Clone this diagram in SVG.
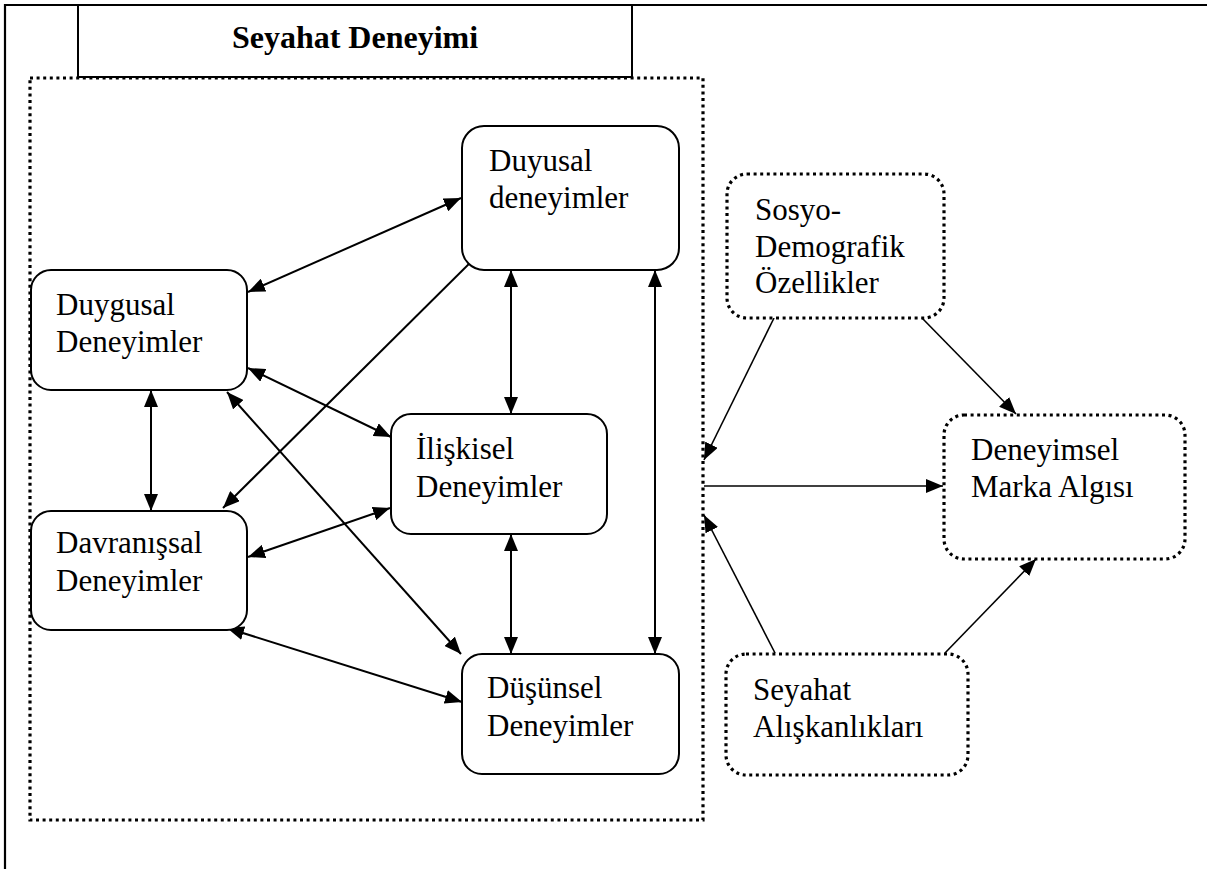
<svg xmlns="http://www.w3.org/2000/svg" width="1207" height="869" viewBox="0 0 1207 869">
<style>
text{font-family:"Liberation Serif","Times New Roman",serif;font-size:31px;fill:#000}
.title{font-weight:bold;font-size:32px}
.box{fill:#fff;stroke:#000;stroke-width:2}
.dbox{fill:#fff;stroke:#000;stroke-width:3.2;stroke-dasharray:3 3.6}
.frame{fill:none;stroke:#000;stroke-width:3.2;stroke-dasharray:3 3.6}
.c{fill:none;stroke:#000;stroke-width:2}
.c2{fill:none;stroke:#000;stroke-width:1.6}
</style>
<defs>
<marker id="ah" markerUnits="userSpaceOnUse" markerWidth="18" markerHeight="14" refX="17" refY="7" orient="auto-start-reverse">
<path d="M0,0 L17,7 L0,14 z" fill="#000"/>
</marker>
</defs>
<rect width="1207" height="869" fill="#fff"/>
<g id="outer-frame">
<path d="M5,869 V5 H1207" fill="none" stroke="#000" stroke-width="2.2"/>
</g>
<g id="group-frame">
<rect class="frame" x="30" y="78" width="673" height="742"/>
</g>
<g id="title">
<rect class="box" x="78" y="5" width="554" height="72"/>
<text class="title" x="355" y="48" text-anchor="middle">Seyahat Deneyimi</text>
</g>
<g id="connectors">
<line class="c" x1="461" y1="198" x2="248" y2="292" marker-start="url(#ah)" marker-end="url(#ah)"/>
<line class="c" x1="487" y1="246" x2="223" y2="508" marker-start="url(#ah)" marker-end="url(#ah)"/>
<line class="c" x1="511" y1="270" x2="511" y2="414" marker-start="url(#ah)" marker-end="url(#ah)"/>
<line class="c" x1="655" y1="270" x2="655" y2="654" marker-start="url(#ah)" marker-end="url(#ah)"/>
<line class="c" x1="248" y1="368" x2="391" y2="437" marker-start="url(#ah)" marker-end="url(#ah)"/>
<line class="c" x1="227" y1="392" x2="461" y2="654" marker-start="url(#ah)" marker-end="url(#ah)"/>
<line class="c" x1="151" y1="390" x2="151" y2="511" marker-start="url(#ah)" marker-end="url(#ah)"/>
<line class="c" x1="248" y1="557" x2="390" y2="508" marker-start="url(#ah)" marker-end="url(#ah)"/>
<line class="c" x1="227" y1="628" x2="462" y2="702" marker-start="url(#ah)" marker-end="url(#ah)"/>
<line class="c" x1="511" y1="534" x2="511" y2="654" marker-start="url(#ah)" marker-end="url(#ah)"/>
<line class="c2" x1="774" y1="318" x2="704" y2="460" marker-end="url(#ah)"/>
<line class="c2" x1="922" y1="318" x2="1016" y2="414" marker-end="url(#ah)"/>
<line class="c2" x1="704" y1="486" x2="943" y2="486" marker-end="url(#ah)"/>
<line class="c2" x1="775" y1="653" x2="704" y2="515" marker-end="url(#ah)"/>
<line class="c2" x1="945" y1="653" x2="1036" y2="559" marker-end="url(#ah)"/>
</g>
<g id="duyusal">
<rect class="box" x="462" y="126" width="217" height="144" rx="22"/>
<text x="489" y="171">Duyusal</text>
<text x="489" y="208">deneyimler</text>
</g>
<g id="duygusal">
<rect class="box" x="31" y="270" width="216" height="120" rx="20"/>
<text x="56" y="315">Duygusal</text>
<text x="56" y="352">Deneyimler</text>
</g>
<g id="iliskisel">
<rect class="box" x="391" y="414" width="216" height="120" rx="20"/>
<text x="416" y="459">İlişkisel</text>
<text x="416" y="497">Deneyimler</text>
</g>
<g id="davranissal">
<rect class="box" x="31" y="511" width="216" height="119" rx="20"/>
<text x="56" y="553">Davranışsal</text>
<text x="56" y="591">Deneyimler</text>
</g>
<g id="dusunsel">
<rect class="box" x="462" y="654" width="217" height="120" rx="20"/>
<text x="487" y="698">Düşünsel</text>
<text x="487" y="736">Deneyimler</text>
</g>
<g id="sosyo">
<rect class="dbox" x="727" y="174" width="217" height="144" rx="20"/>
<text x="755" y="220">Sosyo-</text>
<text x="755" y="257">Demografik</text>
<text x="755" y="293">Özellikler</text>
</g>
<g id="marka">
<rect class="dbox" x="944" y="415" width="241" height="144" rx="20"/>
<text x="971" y="460">Deneyimsel</text>
<text x="971" y="497">Marka Algısı</text>
</g>
<g id="aliskanlik">
<rect class="dbox" x="726" y="654" width="242" height="121" rx="20"/>
<text x="753" y="700">Seyahat</text>
<text x="753" y="737">Alışkanlıkları</text>
</g>
</svg>
